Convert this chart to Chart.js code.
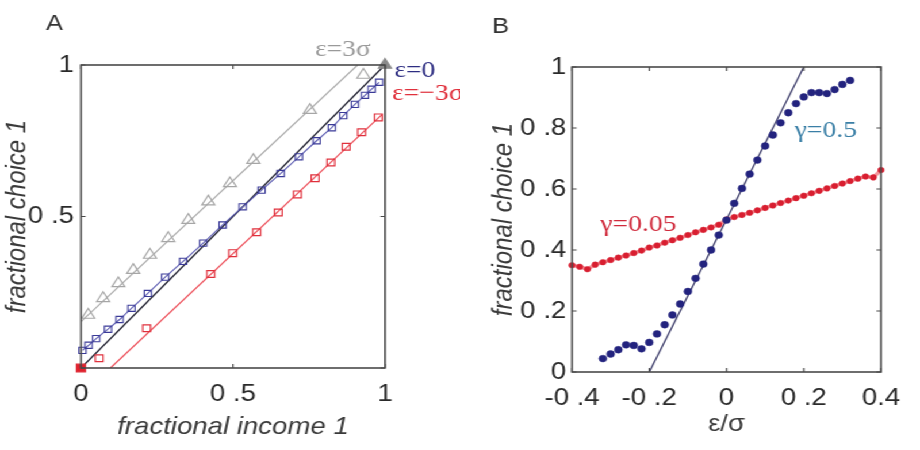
<!DOCTYPE html>
<html><head><meta charset="utf-8">
<script src="https://cdn.jsdelivr.net/npm/chart.js@4.4.1/dist/chart.umd.min.js"></script>
<style>
html,body{margin:0;padding:0;background:#fff;overflow:hidden;width:920px;height:450px}
#wrap{position:absolute;left:0;top:0;width:800px;height:450px;transform:scaleX(1.15);transform-origin:0 0}
canvas{position:absolute;top:0}
#ca{left:0}
#cb{left:400px}
</style></head><body>
<div id="wrap"><canvas id="ca" width="400" height="450"></canvas><canvas id="cb" width="400" height="450"></canvas></div>
<script>
// ---------- Panel A data ----------
const incomeTicks = [0, 0.5, 1];
const incomeTickLabels = ['0', '0 .5', '1'];
const choiceTicksA = [0.5, 1];
const choiceTickLabelsA = ['0 .5', '1'];

const plus3X = [0.024, 0.073, 0.123, 0.172, 0.227, 0.287, 0.353, 0.419, 0.49, 0.567, 0.753, 0.929, 1.0];
const plus3Y = [0.175, 0.23, 0.279, 0.323, 0.373, 0.428, 0.488, 0.549, 0.609, 0.686, 0.851, 0.967, 1.0];
const plus3LineX = [0, 0.91];
const plus3LineY = [0.153, 1.0];

const zeroX = [0.005, 0.025, 0.05, 0.089, 0.127, 0.166, 0.22, 0.277, 0.336, 0.402, 0.466, 0.532, 0.594, 0.657, 0.717, 0.775, 0.825, 0.863, 0.901, 0.934, 0.956, 0.981];
const zeroY = [0.058, 0.075, 0.097, 0.128, 0.16, 0.197, 0.246, 0.3, 0.352, 0.412, 0.472, 0.532, 0.587, 0.642, 0.697, 0.75, 0.793, 0.833, 0.87, 0.9, 0.92, 0.943];
const diagX = [0, 1];
const diagY = [0, 1];

const minus3X = [0, 0.06, 0.216, 0.427, 0.499, 0.578, 0.649, 0.712, 0.77, 0.822, 0.872, 0.923, 0.978];
const minus3Y = [0, 0.032, 0.131, 0.31, 0.379, 0.448, 0.513, 0.573, 0.626, 0.678, 0.73, 0.778, 0.827];
const minus3LineX = [0.097, 0.99];
const minus3LineY = [0, 0.836];

// ---------- Panel B data ----------
const ratioTicks = [-0.4, -0.2, 0, 0.2, 0.4];
const ratioTickLabels = ['-0 .4', '-0 .2', '0', '0 .2', '0.4'];
const choiceTicksB = [0, 0.2, 0.4, 0.6, 0.8, 1];
const choiceTickLabelsB = ['0', '0 .2', '0 .4', '0 .6', '0 .8', '1'];

const g05X = [-0.32, -0.30, -0.28, -0.26, -0.24, -0.22, -0.20, -0.18, -0.16, -0.14, -0.12, -0.10, -0.08, -0.06, -0.04, -0.02, 0.00, 0.02, 0.04, 0.06, 0.08, 0.10, 0.12, 0.14, 0.16, 0.18, 0.20, 0.22, 0.24, 0.26, 0.28, 0.30, 0.32];
const g05Y = [0.044, 0.059, 0.073, 0.089, 0.087, 0.076, 0.097, 0.125, 0.155, 0.187, 0.223, 0.264, 0.307, 0.354, 0.400, 0.449, 0.498, 0.553, 0.602, 0.649, 0.695, 0.741, 0.777, 0.817, 0.850, 0.880, 0.902, 0.916, 0.916, 0.913, 0.926, 0.943, 0.956];

const g005X = [-0.40, -0.38, -0.36, -0.34, -0.32, -0.30, -0.28, -0.26, -0.24, -0.22, -0.20, -0.18, -0.16, -0.14, -0.12, -0.10, -0.08, -0.06, -0.04, -0.02, 0.00, 0.02, 0.04, 0.06, 0.08, 0.10, 0.12, 0.14, 0.16, 0.18, 0.20, 0.22, 0.24, 0.26, 0.28, 0.30, 0.32, 0.34, 0.36, 0.38, 0.40];
const g005Y = [0.350, 0.345, 0.337, 0.352, 0.360, 0.367, 0.375, 0.382, 0.390, 0.398, 0.408, 0.415, 0.424, 0.432, 0.440, 0.449, 0.458, 0.466, 0.474, 0.483, 0.500, 0.508, 0.515, 0.522, 0.530, 0.538, 0.546, 0.554, 0.562, 0.570, 0.578, 0.586, 0.594, 0.602, 0.610, 0.618, 0.626, 0.634, 0.641, 0.638, 0.662];

const fitLineX = [-0.2, 0.2];
const fitLineY = [0, 1];

// ---------- helpers ----------
const pts = (xs, ys) => xs.map((x, i) => ({x: x, y: ys[i]}));
const labelFrom = (vals, labels) => (v) => { const i = vals.indexOf(v); return i >= 0 ? labels[i] : ''; };
const SANS = "'Liberation Sans', Arial, Helvetica, sans-serif";
const SERIF = "'Liberation Serif', 'Times New Roman', serif";

function boxPlugin(xTicks, yTicks, texts) {
  return {
    id: 'box',
    afterDatasetsDraw(chart) {
      const {ctx, chartArea: a, scales} = chart;
      ctx.save();
      ctx.strokeStyle = '#4a4a4a';
      ctx.lineWidth = 1.6;
      ctx.strokeRect(a.left, a.top, a.right - a.left, a.bottom - a.top);
      ctx.lineWidth = 1.2;
      const tl = 4;
      xTicks.forEach(v => {
        const px = scales.x.getPixelForValue(v);
        ctx.beginPath(); ctx.moveTo(px, a.bottom); ctx.lineTo(px, a.bottom - tl);
        ctx.moveTo(px, a.top); ctx.lineTo(px, a.top + tl); ctx.stroke();
      });
      yTicks.forEach(v => {
        const py = scales.y.getPixelForValue(v);
        ctx.beginPath(); ctx.moveTo(a.left, py); ctx.lineTo(a.left + tl, py);
        ctx.moveTo(a.right, py); ctx.lineTo(a.right - tl, py); ctx.stroke();
      });
      ctx.restore();
    },
    afterDraw(chart) {
      const {ctx} = chart;
      ctx.save();
      ctx.textBaseline = 'alphabetic';
      ctx.textAlign = 'left';
      texts.forEach(t => {
        ctx.font = t.font;
        ctx.fillStyle = t.color;
        ctx.fillText(t.text, t.x, t.y);
      });
      ctx.restore();
    }
  };
}

function axisOpts(min, max, ticks, labels, size, pad, title, titleFont, titlePad) {
  return {
    type: 'linear', min: min, max: max,
    afterBuildTicks: s => { s.ticks = ticks.map(v => ({value: v})); },
    ticks: {callback: labelFrom(ticks, labels), font: {family: SANS, size: 24}, color: '#2a2a2a', padding: pad, maxRotation: 0, autoSkip: false},
    grid: {display: false, drawTicks: false},
    border: {display: false},
    title: {display: true, text: title, font: titleFont, color: '#3a3a3a', padding: titlePad},
    afterFit: size
  };
}

Chart.defaults.animation = false;

// ---------- Chart A ----------
new Chart(document.getElementById('ca'), {
  type: 'scatter',
  data: {
    datasets: [
      {data: pts(plus3X, plus3Y), showLine: false, pointStyle: 'triangle', pointRadius: 6.5,
       pointBorderColor: ctx => ctx.dataIndex === plus3X.length - 1 ? '#8a8a8a' : '#a6a6a6',
       pointBackgroundColor: ctx => ctx.dataIndex === plus3X.length - 1 ? '#8a8a8a' : 'rgba(255,255,255,0)',
       pointBorderWidth: 1.2, clip: false},
      {data: pts(minus3X, minus3Y), showLine: false, pointStyle: 'rect',
       pointRadius: ctx => ctx.dataIndex === 0 ? 5.5 : 4.8,
       pointBorderColor: '#e0303c',
       pointBackgroundColor: ctx => ctx.dataIndex === 0 ? '#e0202c' : 'rgba(255,255,255,0)',
       pointBorderWidth: 1.2, clip: false},
      {data: pts(zeroX, zeroY), showLine: true, borderColor: '#5a5ab0', borderWidth: 1.1,
       pointStyle: 'rect', pointRadius: 4.4, pointBorderColor: '#3a3a98', pointBackgroundColor: 'rgba(255,255,255,0)',
       pointBorderWidth: 1.1, clip: false},
      {data: pts(diagX, diagY), showLine: true, borderColor: '#1c1c2c', borderWidth: 1.4, pointRadius: 0},
      {data: pts(plus3LineX, plus3LineY), showLine: true, borderColor: '#a8a8a8', borderWidth: 1.2, pointRadius: 0},
      {data: pts(minus3LineX, minus3LineY), showLine: true, borderColor: '#ec4a55', borderWidth: 1.2, pointRadius: 0}
    ]
  },
  options: {
    responsive: false, animation: false, devicePixelRatio: 1,
    layout: {padding: {left: 0, right: 65.2, top: 65, bottom: 0}},
    plugins: {legend: {display: false}, tooltip: {enabled: false}},
    scales: {
      x: axisOpts(0, 1, incomeTicks, incomeTickLabels, s => { s.height = 82; }, 12,
                  'fractional income 1', {family: SANS, size: 24, style: 'italic'}, {top: 0, bottom: 8}),
      y: axisOpts(0, 1, choiceTicksA, choiceTickLabelsA, s => { s.width = 70.4; }, 6,
                  'fractional choice 1', {family: SANS, size: 24, style: 'italic'}, {top: 1, bottom: 0})
    }
  },
  plugins: [boxPlugin([0, 0.5, 1], [0, 0.5, 1], [
    {text: 'A', x: 40, y: 30, font: '22px ' + SANS, color: '#333'},
    {text: 'ε=3σ', x: 274, y: 56, font: '24px ' + SERIF, color: '#9a9a9a'},
    {text: 'ε=0', x: 343, y: 77, font: '24px ' + SERIF, color: '#2e2e82'},
    {text: 'ε=−3σ', x: 341, y: 100, font: '24px ' + SERIF, color: '#e0303c'}
  ])]
});

// ---------- Chart B ----------
new Chart(document.getElementById('cb'), {
  type: 'scatter',
  data: {
    datasets: [
      {data: pts(g05X, g05Y), showLine: false, pointStyle: 'circle', pointRadius: 3.4,
       pointBackgroundColor: '#23237e', pointBorderColor: '#23237e', pointBorderWidth: 0.5, clip: false},
      {data: pts(g005X, g005Y), showLine: true, borderColor: 'rgba(238,80,90,0.6)', borderWidth: 3.5,
       pointStyle: 'circle', pointRadius: 2.8, pointBackgroundColor: '#d81e30', pointBorderColor: '#d81e30',
       pointBorderWidth: 0.5, clip: false},
      {data: pts(fitLineX, fitLineY), showLine: true, borderColor: '#3a3a68', borderWidth: 1.3, pointRadius: 0}
    ]
  },
  options: {
    responsive: false, animation: false, devicePixelRatio: 1,
    layout: {padding: {left: 0, right: 33.9, top: 67, bottom: 0}},
    plugins: {legend: {display: false}, tooltip: {enabled: false}},
    scales: {
      x: axisOpts(-0.4, 0.4, ratioTicks, ratioTickLabels, s => { s.height = 78; }, 12,
                  'ε/σ', {family: SANS, size: 24}, {top: 0, bottom: 11}),
      y: axisOpts(0, 1, choiceTicksB, choiceTickLabelsB, s => { s.width = 97.4; }, 5,
                  'fractional choice 1', {family: SANS, size: 24, style: 'italic'}, {top: 24, bottom: 0})
    }
  },
  plugins: [boxPlugin(ratioTicks, choiceTicksB, [
    {text: 'B', x: 28, y: 33, font: '22px ' + SANS, color: '#333'},
    {text: 'γ=0.5', x: 291, y: 137, font: '24px ' + SERIF, color: '#3a7fa6'},
    {text: 'γ=0.05', x: 122, y: 231, font: '24px ' + SERIF, color: '#d02a3c'}
  ])]
});
</script>
</body></html>
